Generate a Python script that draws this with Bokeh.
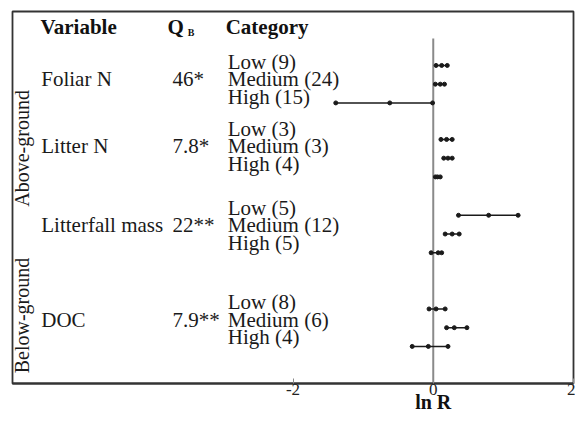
import math
from bokeh.plotting import figure
from bokeh.models import ColumnDataSource, Range1d, FixedTicker, LinearAxis
from bokeh.core.properties import value
from bokeh.embed import file_html
from bokeh.resources import INLINE

# ---- data -------------------------------------------------------------
variables = ["Foliar N", "Litter N", "Litterfall mass", "DOC"]
qb_values = ["46*", "7.8*", "22**", "7.9**"]
categories = ["Low", "Medium", "High"]
counts = [[9, 24, 15], [3, 3, 4], [5, 12, 5], [8, 6, 4]]

# ln R effect sizes: mean with lower / upper confidence limits
lnr_mean = [[0.12, 0.10, -0.62], [0.19, 0.21, 0.06], [0.79, 0.27, 0.07], [0.04, 0.30, -0.07]]
lnr_low = [[0.04, 0.03, -1.39], [0.11, 0.15, 0.03], [0.36, 0.17, -0.03], [-0.06, 0.19, -0.30]]
lnr_high = [[0.20, 0.16, -0.01], [0.27, 0.27, 0.10], [1.21, 0.37, 0.12], [0.17, 0.48, 0.21]]

x_ticks = [-2, 0, 2]
x_tick_labels = {-2: "-2", 0: "0", 2: "2"}
x_title = "ln R"

# ---- layout (row units, top to bottom) ---------------------------------
group_rows = [0.0, 3.95, 8.0, 13.0]      # first row of each variable
text_rows = [0.73, 4.32, 8.52, 13.57]    # baseline of the middle text line
line_gap = 17.5                          # px between category lines
FONT = value("Liberation Serif")

# ---- build sources -----------------------------------------------------
seg = dict(y=[], lo=[], hi=[], m=[])
cat = dict(x=[], y=[], dy=[], t=[])
for g in range(len(variables)):
    for k in range(3):
        y = group_rows[g] + k
        seg["y"].append(y)
        seg["lo"].append(lnr_low[g][k])
        seg["hi"].append(lnr_high[g][k])
        seg["m"].append(lnr_mean[g][k])
        cat["x"].append(-2.93)
        cat["y"].append(text_rows[g])
        cat["dy"].append((k - 1) * line_gap)
        cat["t"].append(f"{categories[k]} ({counts[g][k]})")
seg_src = ColumnDataSource(seg)
cat_src = ColumnDataSource(cat)
var_src = ColumnDataSource(dict(x=[-5.59] * 4, y=text_rows, t=variables))
qb_src = ColumnDataSource(dict(x=[-3.72] * 4, y=text_rows, t=qb_values))

p = figure(width=575, height=421, output_backend="svg", toolbar_location=None,
           x_range=Range1d(-6, 2), y_range=Range1d(16.98, -2.88),
           min_border_left=12, min_border_right=2, min_border_top=11,
           min_border_bottom=38)
p.background_fill_color = "white"
p.border_fill_color = "white"
p.outline_line_color = "#333333"
p.outline_line_width = 1.8
p.xgrid.visible = False
p.ygrid.visible = False
p.yaxis.visible = False

ax = p.xaxis[0]
ax.ticker = FixedTicker(ticks=x_ticks)
ax.major_label_overrides = x_tick_labels
ax.major_tick_in = 5
ax.major_tick_out = 0
ax.minor_tick_line_color = None
ax.major_tick_line_color = "#8a8a8a"
ax.axis_line_color = "#333333"
ax.axis_line_width = 1.8
ax.major_label_standoff = 0
ax.major_label_text_font = "'Liberation Serif'"
ax.major_label_text_font_size = "17px"
ax.major_label_text_color = "#222222"

# axis title sits under the zero tick: a second bottom axis with one label
title_axis = LinearAxis(ticker=FixedTicker(ticks=[0]),
                        major_label_overrides={0: x_title},
                        axis_line_color=None, major_tick_line_color=None,
                        minor_tick_line_color=None, major_tick_in=0, major_tick_out=0,
                        major_label_standoff=-7,
                        major_label_text_font="'Liberation Serif'",
                        major_label_text_font_style="bold",
                        major_label_text_font_size="20px",
                        major_label_text_color="#111111")
p.add_layout(title_axis, "below")

# zero reference line
p.segment(x0=[0], x1=[0], y0=[-1.44], y1=[16.98], line_color="#8a8a8a", line_width=2)

# confidence intervals with mean and limit markers
p.segment(x0="lo", x1="hi", y0="y", y1="y", source=seg_src, line_color="#1a1a1a", line_width=1.5)
for col in ("lo", "m", "hi"):
    p.scatter(x=col, y="y", source=seg_src, size=4, color="#1a1a1a")

# column headers
hdr = dict(text_font=FONT, text_font_style="bold", text_font_size="21px",
           text_color="#111111", text_baseline="alphabetic")
p.text(x=[-5.6], y=[-2.03], text=["Variable"], **hdr)
p.text(x=[-3.79], y=[-2.03], text=["Q"], **hdr)
p.text(x=[-3.5], y=[-1.75], text=["B"], text_font=FONT, text_font_style="bold",
       text_font_size="10px", text_color="#111111", text_baseline="alphabetic")
p.text(x=[-2.96], y=[-2.03], text=["Category"], **hdr)

body = dict(text_font=FONT, text_font_size="21px", text_color="#1a1a1a",
            text_baseline="alphabetic")
p.text(x="x", y="y", text="t", source=var_src, **body)
p.text(x="x", y="y", text="t", source=qb_src, **body)
p.text(x="x", y="y", text="t", y_offset="dy", source=cat_src, **body)

# vertical group labels
p.text(x=[-5.86, -5.86], y=[4.43, 13.35], text=["Above-ground", "Below-ground"],
       angle=math.pi / 2, text_align="center", text_baseline="middle",
       text_font=FONT, text_font_size="20px", text_color="#1a1a1a")

open("out.html", "w").write(file_html(p, INLINE))
